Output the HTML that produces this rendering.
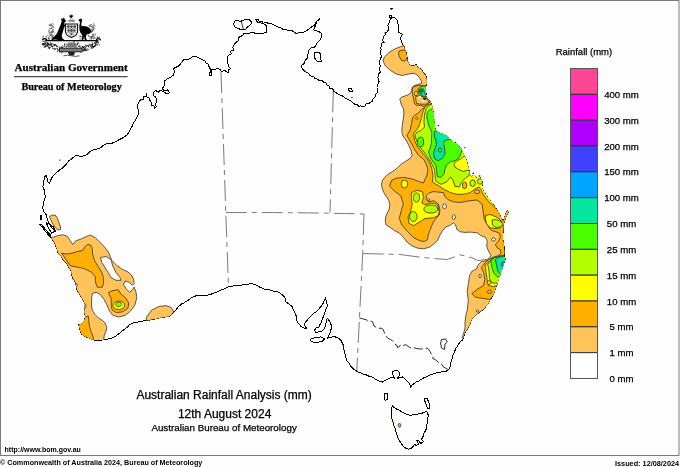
<!DOCTYPE html>
<html><head><meta charset="utf-8"><style>
html,body{margin:0;padding:0;background:#fff;}
body{width:680px;height:467px;overflow:hidden;position:relative;}
svg{position:absolute;left:0;top:0;will-change:transform;}
text{font-family:"Liberation Sans",Arial,sans-serif;fill:#000;stroke:#000;stroke-width:0.25px;}
.lab{font-size:9.6px;}
.ser{font-family:"Liberation Serif","Times New Roman",serif;font-weight:bold;}
</style></head><body>
<svg width="680" height="467" viewBox="0 0 680 467">
<defs><clipPath id="land"><path d="M79.4,324.7 L82.9,323.0 L84.6,319.6 L85.4,317.0 L85.0,315.3 L84.1,311.9 L84.6,308.4 L84.5,304.5 L84.0,302.0 L82.3,298.6 L80.8,296.5 L79.7,294.3 L78.4,292.1 L77.1,290.0 L76.4,287.6 L76.0,285.1 L75.4,282.6 L74.5,280.5 L73.1,278.7 L72.4,276.5 L71.4,274.2 L71.2,271.6 L70.3,269.3 L69.1,267.7 L68.1,265.9 L67.2,264.1 L65.8,262.3 L64.0,261.0 L62.7,259.0 L61.5,257.0 L60.1,255.0 L58.3,253.3 L57.6,251.2 L57.0,249.1 L56.0,247.2 L55.5,245.0 L54.6,243.0 L53.5,241.0 L51.5,238.5 L50.0,235.5 L52.0,233.0 L54.0,231.5 L55.5,231.0 L53.5,229.5 L51.0,226.5 L50.2,224.6 L49.0,223.0 L47.5,219.5 L46.8,217.0 L46.1,214.5 L43.9,211.8 L42.9,208.6 L42.9,206.2 L43.5,203.8 L43.8,201.3 L44.7,198.9 L45.4,196.5 L44.7,194.1 L44.6,191.6 L43.9,189.1 L42.9,186.8 L43.4,184.4 L43.8,181.9 L44.1,179.5 L44.6,177.1 L46.2,175.5 L47.0,177.9 L47.7,179.8 L47.8,181.9 L49.4,183.5 L50.4,181.6 L51.0,179.5 L52.7,176.3 L54.3,174.6 L55.9,173.0 L58.0,171.5 L59.9,169.8 L61.7,168.6 L63.3,167.2 L64.8,165.7 L66.4,164.3 L67.4,162.5 L68.8,160.9 L71.0,159.5 L72.9,157.7 L74.5,156.4 L76.1,155.2 L78.5,156.0 L81.0,156.3 L83.4,156.0 L85.5,155.4 L87.4,154.4 L88.9,152.6 L90.7,151.2 L92.6,150.2 L94.7,149.6 L96.7,149.0 L98.8,148.8 L100.6,147.8 L102.0,146.3 L104.0,145.1 L106.1,143.9 L108.5,144.0 L110.9,143.9 L113.3,142.6 L115.8,141.5 L117.9,140.4 L120.0,139.2 L122.2,138.2 L124.6,136.5 L127.1,135.0 L128.6,132.5 L130.0,130.0 L131.2,127.8 L132.5,125.7 L133.3,123.3 L134.5,121.6 L135.7,119.9 L136.5,118.0 L137.7,116.1 L138.5,114.0 L138.6,111.6 L138.1,109.3 L137.7,107.0 L137.9,104.8 L138.5,102.6 L140.7,99.7 L143.2,99.2 L143.6,96.7 L146.4,96.5 L146.6,93.7 L146.4,96.6 L149.0,98.0 L150.0,100.6 L151.5,103.0 L151.8,105.3 L154.6,106.1 L154.7,108.5 L156.3,106.4 L155.2,104.0 L156.4,102.1 L157.0,100.0 L155.5,97.0 L153.6,95.4 L153.2,93.0 L155.5,90.3 L158.4,92.3 L160.3,90.2 L162.8,91.5 L164.3,92.3 L166.8,93.9 L169.5,92.6 L167.5,89.8 L164.3,90.8 L162.3,88.9 L163.6,86.4 L165.1,84.0 L164.3,81.2 L167.3,79.0 L170.2,77.5 L173.2,75.3 L174.7,71.6 L173.2,68.6 L176.1,67.2 L179.1,65.7 L181.3,62.7 L183.5,59.8 L186.5,59.8 L189.4,59.0 L192.4,56.8 L195.3,56.1 L198.3,57.6 L200.3,58.4 L202.0,59.8 L204.7,60.2 L205.7,62.7 L207.7,63.6 L208.6,65.7 L210.1,68.6 L210.8,71.6 L209.1,73.5 L209.4,76.0 L211.8,74.9 L211.6,72.3 L211.8,69.6 L214.5,69.4 L218.2,68.6 L220.4,69.4 L221.2,71.5 L225.0,70.5 L226.7,71.9 L228.9,72.4 L228.2,69.7 L230.8,68.6 L228.9,66.7 L228.7,64.4 L227.0,62.8 L227.0,59.0 L227.3,56.8 L228.9,55.1 L231.2,53.8 L230.8,51.2 L233.5,50.2 L232.8,47.4 L234.2,45.0 L235.6,42.6 L238.2,40.9 L238.5,37.8 L240.2,36.3 L242.4,35.8 L243.8,33.8 L246.2,33.9 L248.2,33.7 L250.1,32.9 L253.2,32.1 L255.9,33.9 L258.8,33.1 L261.7,33.9 L264.5,32.9 L266.5,32.0 L266.2,29.1 L266.5,26.2 L265.2,24.4 L262.8,23.7 L262.0,21.5 L259.6,22.0 L258.3,19.2 L256.0,19.5 L257.5,22.5 L259.5,21.9 L261.5,23.7 L263.5,23.5 L265.5,22.3 L268.4,23.3 L270.4,23.5 L272.3,24.3 L274.2,25.2 L276.1,26.2 L278.5,27.2 L280.9,28.1 L282.7,29.1 L284.7,29.6 L286.7,30.0 L289.6,30.7 L292.5,31.0 L294.3,32.0 L296.0,33.4 L298.3,32.9 L302.1,32.9 L304.1,32.0 L306.0,31.0 L308.9,29.1 L310.7,27.5 L312.7,26.2 L314.6,25.2 L315.6,23.3 L316.5,21.3 L318.5,20.4 L319.5,18.5 L318.8,20.6 L316.0,21.4 L316.0,24.0 L315.2,26.0 L314.3,28.0 L313.7,30.0 L316.6,31.0 L319.5,32.0 L321.7,33.3 L321.4,35.8 L321.1,37.8 L320.4,39.7 L318.8,41.0 L317.5,42.6 L315.6,45.5 L314.3,47.7 L311.8,47.4 L310.1,48.6 L308.9,50.3 L307.9,54.1 L307.9,58.0 L306.2,59.2 L305.0,60.9 L304.5,63.5 L302.1,64.7 L301.2,66.7 L303.1,69.5 L304.8,71.2 L306.9,72.4 L308.6,73.6 L309.9,75.4 L311.8,76.3 L313.9,76.9 L315.3,78.7 L317.5,79.2 L319.1,80.8 L322.0,79.9 L323.3,82.1 L325.9,82.3 L326.9,85.0 L329.1,85.9 L329.7,88.5 L332.7,89.0 L333.8,91.2 L335.9,92.4 L337.8,94.0 L340.0,95.0 L342.3,95.8 L344.4,97.2 L346.2,98.8 L348.6,99.6 L350.6,100.9 L352.5,102.5 L354.4,104.0 L357.0,104.5 L358.8,106.2 L360.8,105.9 L362.9,107.0 L365.0,106.2 L365.9,103.9 L368.4,103.9 L370.0,102.5 L372.1,101.3 L373.0,98.8 L375.0,97.5 L375.1,94.8 L377.5,92.8 L377.5,90.0 L377.0,87.9 L377.1,85.9 L378.1,84.0 L379.1,82.1 L378.8,80.0 L377.8,77.9 L378.6,76.0 L378.7,74.0 L380.3,72.1 L379.5,70.0 L379.4,68.0 L380.7,66.0 L378.9,64.0 L379.4,62.0 L380.0,60.0 L380.7,58.1 L381.6,56.1 L380.6,54.0 L380.2,51.9 L381.2,50.0 L380.5,47.8 L381.9,46.0 L381.3,43.9 L383.3,42.1 L382.7,40.0 L383.6,36.8 L385.3,34.3 L387.0,31.7 L388.6,29.8 L388.3,27.4 L387.8,25.1 L389.1,23.1 L390.0,19.7 L392.1,17.6 L394.3,17.1 L395.6,18.4 L397.3,20.6 L398.1,24.0 L398.4,26.1 L398.1,28.3 L398.0,30.4 L398.6,32.5 L400.7,33.4 L402.4,34.3 L401.1,36.0 L400.7,38.5 L401.5,42.0 L402.8,44.4 L404.4,46.6 L404.7,49.3 L405.8,51.8 L406.4,54.0 L406.6,56.2 L407.4,58.4 L407.3,60.7 L408.6,62.8 L409.5,65.1 L411.7,65.8 L414.0,65.8 L416.2,64.4 L417.7,67.3 L419.7,68.2 L421.4,69.5 L422.8,71.8 L424.3,74.0 L425.8,75.5 L426.5,78.4 L426.9,80.6 L427.0,82.8 L426.3,84.9 L425.5,87.0 L425.6,89.4 L425.6,91.8 L426.1,93.7 L425.9,95.8 L426.8,97.7 L429.2,100.6 L430.9,102.4 L432.1,105.9 L432.8,108.2 L432.7,110.6 L433.6,112.9 L433.3,115.3 L433.4,117.8 L434.5,120.0 L434.1,122.4 L434.7,124.7 L434.7,128.2 L436.5,130.6 L437.9,132.3 L440.0,133.0 L442.4,133.8 L444.7,134.7 L447.7,136.5 L448.7,138.6 L450.6,140.0 L452.1,141.6 L454.2,142.4 L456.1,143.3 L457.7,144.7 L459.2,146.7 L461.2,148.3 L462.4,151.8 L464.2,155.3 L465.9,158.9 L467.1,162.4 L467.3,164.8 L468.3,167.1 L468.7,169.5 L469.4,171.8 L470.0,175.3 L471.8,177.1 L473.6,174.1 L475.3,176.5 L477.1,178.8 L479.4,176.5 L480.6,178.3 L481.8,180.0 L482.4,183.6 L481.8,187.1 L483.0,190.6 L484.4,192.3 L485.3,194.2 L486.7,195.8 L487.7,197.7 L489.4,199.2 L490.6,201.2 L493.0,204.2 L495.3,207.1 L497.1,210.6 L498.5,212.4 L499.9,214.1 L500.3,216.2 L501.2,218.1 L502.2,219.9 L503.4,223.6 L503.4,227.3 L503.2,231.1 L502.8,234.8 L502.8,238.5 L503.4,242.2 L504.1,246.0 L504.1,249.7 L504.4,252.1 L504.1,254.6 L504.0,256.6 L505.2,258.5 L504.9,260.6 L503.8,262.9 L503.2,265.3 L502.5,267.7 L501.4,270.0 L500.6,272.3 L500.1,274.8 L499.1,277.0 L498.5,279.4 L497.8,281.8 L497.3,284.3 L496.0,286.5 L495.4,288.9 L494.8,291.0 L494.0,292.9 L493.1,294.8 L492.0,296.5 L491.1,298.3 L490.1,300.0 L489.1,302.2 L487.9,304.4 L485.8,306.5 L484.2,308.9 L482.0,310.3 L479.8,311.8 L478.0,313.4 L476.1,314.8 L474.7,316.4 L473.1,317.7 L471.8,319.4 L470.9,321.4 L470.2,323.6 L469.4,325.8 L468.1,327.5 L467.2,329.5 L465.0,332.5 L464.3,334.7 L463.5,336.9 L462.8,339.9 L460.6,341.4 L458.3,344.3 L457.4,346.3 L456.1,348.0 L455.0,350.6 L453.9,353.2 L452.9,355.3 L452.4,357.6 L451.9,359.9 L451.0,362.0 L450.4,364.1 L450.3,366.2 L448.5,369.7 L445.9,371.5 L443.5,371.5 L441.1,371.9 L438.8,372.4 L436.4,372.7 L434.2,373.9 L431.8,374.1 L429.1,375.4 L426.5,376.8 L423.7,377.9 L421.2,379.4 L418.7,381.0 L415.9,382.1 L414.2,383.5 L412.3,384.7 L410.6,387.5 L409.7,384.0 L407.9,382.1 L405.3,379.4 L402.6,377.0 L400.9,377.8 L397.2,378.3 L399.3,375.8 L399.6,372.5 L397.5,370.3 L394.5,370.4 L392.6,372.0 L393.0,375.0 L394.5,378.2 L391.2,377.5 L389.1,378.6 L386.8,379.4 L384.6,380.7 L382.4,382.1 L379.7,381.3 L377.1,380.3 L375.3,379.1 L373.7,377.8 L371.8,376.8 L369.0,376.2 L366.5,375.0 L363.7,374.4 L361.2,373.2 L358.4,372.1 L355.9,370.6 L354.0,369.3 L352.2,367.9 L350.6,366.2 L349.7,364.3 L348.5,362.5 L347.1,360.9 L346.1,358.8 L345.8,356.5 L345.0,354.3 L344.4,352.1 L344.0,349.7 L343.7,347.4 L343.5,345.0 L342.6,343.9 L341.8,341.9 L340.7,340.1 L339.2,338.7 L337.5,337.5 L335.5,337.0 L333.6,336.2 L331.8,337.2 L329.8,337.5 L327.2,338.1 L328.5,336.2 L329.3,334.2 L330.4,332.4 L330.6,330.3 L331.7,328.5 L331.1,324.7 L330.2,322.7 L329.2,320.8 L327.2,318.2 L326.6,322.1 L325.7,323.9 L325.3,325.9 L324.5,327.9 L323.4,329.8 L321.7,331.2 L319.5,331.7 L315.7,332.4 L314.4,330.4 L316.3,327.9 L318.9,327.2 L319.5,325.1 L320.8,323.4 L321.6,320.7 L322.7,318.2 L323.8,315.7 L324.7,313.1 L325.9,309.3 L326.9,307.5 L327.2,305.4 L326.6,301.6 L325.8,299.7 L325.3,297.7 L324.7,299.6 L323.4,302.8 L321.5,306.0 L319.9,307.4 L318.9,309.3 L316.3,311.8 L314.3,313.0 L312.5,314.4 L311.0,316.1 L309.3,317.6 L307.8,319.6 L306.0,321.5 L304.1,324.7 L305.4,326.6 L306.7,328.5 L303.5,327.9 L300.9,326.6 L299.8,324.8 L298.3,323.4 L297.3,321.5 L296.4,319.5 L296.3,316.9 L295.8,314.4 L294.8,312.5 L293.9,310.5 L293.0,308.7 L292.6,306.7 L290.0,304.8 L288.0,303.3 L285.9,301.8 L285.0,298.2 L283.8,296.3 L282.3,294.7 L280.4,293.6 L278.8,292.1 L276.1,291.7 L273.5,291.2 L270.8,290.2 L268.2,289.1 L264.7,289.4 L262.6,288.3 L260.3,287.6 L258.3,286.0 L255.9,285.0 L253.7,284.2 L251.5,283.2 L247.9,284.5 L245.8,284.4 L243.8,284.6 L241.8,285.0 L239.4,285.3 L237.1,285.4 L234.7,285.5 L232.7,286.2 L230.5,286.2 L228.5,286.8 L225.8,288.0 L223.2,289.4 L221.1,290.1 L219.1,291.0 L217.1,292.1 L214.7,292.9 L212.3,293.7 L210.0,294.7 L207.6,295.0 L205.3,295.6 L202.9,295.6 L200.9,295.4 L198.8,295.6 L196.8,295.1 L194.8,296.4 L192.6,297.0 L190.6,298.2 L189.0,299.7 L187.2,300.8 L185.3,301.8 L183.7,303.2 L181.6,303.9 L180.0,305.3 L178.4,306.3 L177.2,308.2 L175.9,310.0 L174.3,311.5 L172.4,313.0 L171.0,315.1 L169.1,316.6 L167.0,316.7 L164.9,317.1 L162.9,317.6 L160.8,317.7 L158.8,318.0 L156.8,318.7 L154.7,319.0 L152.6,319.2 L150.6,319.7 L148.6,320.4 L146.4,320.2 L144.4,320.7 L142.3,321.1 L140.2,321.3 L138.2,321.8 L135.9,322.7 L133.4,323.0 L131.0,323.8 L129.1,325.0 L127.8,326.8 L125.9,328.0 L124.4,329.4 L122.8,330.5 L121.1,331.6 L119.7,333.1 L117.7,334.6 L115.7,336.0 L113.5,337.2 L111.5,338.1 L109.4,338.5 L107.4,339.3 L105.3,339.4 L103.3,339.9 L101.2,340.1 L97.4,340.1 L94.0,340.1 L91.4,339.3 L88.0,337.6 L84.6,336.3 L81.6,334.1 L80.3,330.7 L79.4,327.3 L78.6,324.9ZM392.5,405.4 L393.7,407.3 L397.0,409.3 L399.0,410.1 L400.8,411.2 L402.8,412.3 L404.7,413.7 L406.7,414.2 L408.5,415.0 L412.4,415.0 L416.2,414.4 L418.4,413.9 L420.7,413.7 L423.9,412.5 L426.5,411.2 L427.8,413.7 L428.4,415.9 L427.8,418.2 L427.4,420.8 L427.1,423.4 L426.1,425.9 L426.5,428.5 L425.2,431.1 L423.9,433.6 L423.4,435.6 L422.6,437.5 L421.5,439.5 L423.5,441.5 L421.0,443.5 L418.8,441.0 L416.9,440.7 L418.5,444.0 L416.0,445.5 L414.9,443.9 L413.0,446.5 L411.1,448.4 L408.5,449.1 L405.9,448.4 L403.4,446.5 L401.5,443.9 L399.5,440.7 L397.6,437.5 L397.3,435.4 L396.3,433.6 L395.7,429.8 L394.4,426.6 L393.3,424.8 L393.1,422.7 L392.7,420.4 L391.8,418.2 L391.9,415.6 L391.2,413.1 L391.6,410.9 L391.6,408.6ZM233.7,23.3 L235.6,20.4 L240.5,21.4 L244.3,20.0 L249.1,19.5 L252.0,22.3 L250.1,25.2 L247.2,27.2 L245.3,29.7 L241.4,30.0 L237.6,28.1 L234.3,26.6ZM314.0,53.0 L318.0,52.0 L321.0,54.0 L320.5,58.0 L321.5,61.5 L317.0,61.0 L314.5,58.0ZM311.2,338.8 L315.7,337.5 L320.8,336.9 L324.7,338.8 L322.1,341.3 L317.0,342.6 L312.5,342.0 L310.5,340.7ZM384.5,393.5 L387.5,393.5 L387.8,399.0 L385.0,400.3 L384.2,397.0ZM425.0,398.5 L427.0,398.3 L430.0,405.0 L429.5,409.0 L427.5,408.0 L424.8,401.0ZM507.2,210.5 L508.8,211.2 L506.5,216.0 L504.5,221.0 L503.5,225.0 L502.6,224.5 L504.0,219.0 L505.6,214.0ZM40.0,224.5 L41.5,224.5 L51.0,236.0 L50.0,237.0ZM46.5,223.0 L49.0,223.5 L53.5,227.0 L55.0,231.5 L52.0,233.0 L48.5,228.5ZM40.2,215.0 L41.0,215.0 L41.5,219.5 L40.7,219.5ZM348.0,89.0 L351.0,88.5 L352.5,91.0 L350.0,92.0ZM389.6,15.6 L391.0,15.4 L391.2,16.9 L389.8,17.2ZM390.4,8.2 L392.2,8.6 L391.4,10.0Z"/></clipPath></defs>
<rect x="0" y="0" width="680" height="467" fill="#fdfefd"/>
<rect x="0.5" y="0.5" width="678.5" height="455" fill="#fcfdfc" stroke="#7a7a7a" stroke-width="1"/>

<g fill="none" stroke="#7a7a7a" stroke-width="1" stroke-dasharray="21 5 5 5">
<path d="M221,72 L225.8,212.6 L228.5,286.5"/>
<path d="M225.8,212.6 Q295,212.2 364,214"/>
<path d="M333.3,91.3 L330,212.5"/>
<path d="M364,214 L362.7,253.5 L356.8,370.6"/>
<path d="M362.7,253.5 L400,254.5 L414.1,256.4 L430.6,258.3 L447.1,259.5 L454.2,257.1 L458.9,254.7 L466,255.9 L473,258.3 L477.8,260.6 L490,259 L504,258"/>

</g>
<path fill="none" stroke="#111" stroke-width="0.9" stroke-dasharray="9 3" d="M359.4,318.1 L361.6,318.5 L363.8,319.2 L366.0,319.6 L367.9,321.1 L370.4,321.0 L372.6,321.8 L373.3,324.0 L374.1,326.2 L377.0,327.7 L378.9,328.4 L381.1,328.1 L382.9,329.2 L383.9,331.4 L384.7,333.7 L385.9,335.8 L387.7,338.1 L390.3,339.5 L392.3,340.4 L393.5,342.2 L394.7,343.9 L396.8,345.2 L397.6,347.6 L399.5,346.5 L400.6,344.6 L403.0,345.5 L405.7,344.7 L407.9,346.1 L409.6,347.5 L411.6,348.0 L413.8,347.6 L416.2,348.4 L418.7,348.8 L421.2,349.1 L423.6,348.4 L426.1,348.1 L428.5,349.1 L430.0,351.7 L431.5,354.2 L433.0,356.1 L432.9,358.6 L435.2,359.6 L437.1,361.1 L438.8,363.0 L441.6,364.1 L443.2,366.7 L445.2,367.9 L447.2,369.1 L449.1,370.4"/>
<path d="M241.4,21.6 L243.3,29.3" stroke="#000" stroke-width="0.8"/>
<g fill="#000"><circle cx="433.8" cy="120.5" r="1.1"/><circle cx="438.3" cy="125.6" r="0.7"/><circle cx="464.8" cy="147.7" r="0.6"/><circle cx="473.2" cy="173.3" r="0.8"/><circle cx="479.5" cy="176" r="0.8"/><circle cx="385.4" cy="33" r="0.9"/><circle cx="384" cy="42.5" r="0.8"/><circle cx="352" cy="97.5" r="0.7"/><circle cx="59.9" cy="160.1" r="0.7"/></g>
<path d="M441.5,339.5 L445.5,339 L447.3,342 L445,344 L444.5,349.5 L441.5,348 L440.6,343 Z" fill="none" stroke="#111" stroke-width="0.9"/>

<path d="M79.4,324.7 L82.9,323.0 L84.6,319.6 L85.4,317.0 L85.0,315.3 L84.1,311.9 L84.6,308.4 L84.5,304.5 L84.0,302.0 L82.3,298.6 L80.8,296.5 L79.7,294.3 L78.4,292.1 L77.1,290.0 L76.4,287.6 L76.0,285.1 L75.4,282.6 L74.5,280.5 L73.1,278.7 L72.4,276.5 L71.4,274.2 L71.2,271.6 L70.3,269.3 L69.1,267.7 L68.1,265.9 L67.2,264.1 L65.8,262.3 L64.0,261.0 L62.7,259.0 L61.5,257.0 L60.1,255.0 L58.3,253.3 L57.6,251.2 L57.0,249.1 L56.0,247.2 L55.5,245.0 L54.6,243.0 L53.5,241.0 L51.5,238.5 L50.0,235.5 L52.0,233.0 L54.0,231.5 L55.5,231.0 L53.5,229.5 L51.0,226.5 L50.2,224.6 L49.0,223.0 L47.5,219.5 L46.8,217.0 L46.1,214.5 L43.9,211.8 L42.9,208.6 L42.9,206.2 L43.5,203.8 L43.8,201.3 L44.7,198.9 L45.4,196.5 L44.7,194.1 L44.6,191.6 L43.9,189.1 L42.9,186.8 L43.4,184.4 L43.8,181.9 L44.1,179.5 L44.6,177.1 L46.2,175.5 L47.0,177.9 L47.7,179.8 L47.8,181.9 L49.4,183.5 L50.4,181.6 L51.0,179.5 L52.7,176.3 L54.3,174.6 L55.9,173.0 L58.0,171.5 L59.9,169.8 L61.7,168.6 L63.3,167.2 L64.8,165.7 L66.4,164.3 L67.4,162.5 L68.8,160.9 L71.0,159.5 L72.9,157.7 L74.5,156.4 L76.1,155.2 L78.5,156.0 L81.0,156.3 L83.4,156.0 L85.5,155.4 L87.4,154.4 L88.9,152.6 L90.7,151.2 L92.6,150.2 L94.7,149.6 L96.7,149.0 L98.8,148.8 L100.6,147.8 L102.0,146.3 L104.0,145.1 L106.1,143.9 L108.5,144.0 L110.9,143.9 L113.3,142.6 L115.8,141.5 L117.9,140.4 L120.0,139.2 L122.2,138.2 L124.6,136.5 L127.1,135.0 L128.6,132.5 L130.0,130.0 L131.2,127.8 L132.5,125.7 L133.3,123.3 L134.5,121.6 L135.7,119.9 L136.5,118.0 L137.7,116.1 L138.5,114.0 L138.6,111.6 L138.1,109.3 L137.7,107.0 L137.9,104.8 L138.5,102.6 L140.7,99.7 L143.2,99.2 L143.6,96.7 L146.4,96.5 L146.6,93.7 L146.4,96.6 L149.0,98.0 L150.0,100.6 L151.5,103.0 L151.8,105.3 L154.6,106.1 L154.7,108.5 L156.3,106.4 L155.2,104.0 L156.4,102.1 L157.0,100.0 L155.5,97.0 L153.6,95.4 L153.2,93.0 L155.5,90.3 L158.4,92.3 L160.3,90.2 L162.8,91.5 L164.3,92.3 L166.8,93.9 L169.5,92.6 L167.5,89.8 L164.3,90.8 L162.3,88.9 L163.6,86.4 L165.1,84.0 L164.3,81.2 L167.3,79.0 L170.2,77.5 L173.2,75.3 L174.7,71.6 L173.2,68.6 L176.1,67.2 L179.1,65.7 L181.3,62.7 L183.5,59.8 L186.5,59.8 L189.4,59.0 L192.4,56.8 L195.3,56.1 L198.3,57.6 L200.3,58.4 L202.0,59.8 L204.7,60.2 L205.7,62.7 L207.7,63.6 L208.6,65.7 L210.1,68.6 L210.8,71.6 L209.1,73.5 L209.4,76.0 L211.8,74.9 L211.6,72.3 L211.8,69.6 L214.5,69.4 L218.2,68.6 L220.4,69.4 L221.2,71.5 L225.0,70.5 L226.7,71.9 L228.9,72.4 L228.2,69.7 L230.8,68.6 L228.9,66.7 L228.7,64.4 L227.0,62.8 L227.0,59.0 L227.3,56.8 L228.9,55.1 L231.2,53.8 L230.8,51.2 L233.5,50.2 L232.8,47.4 L234.2,45.0 L235.6,42.6 L238.2,40.9 L238.5,37.8 L240.2,36.3 L242.4,35.8 L243.8,33.8 L246.2,33.9 L248.2,33.7 L250.1,32.9 L253.2,32.1 L255.9,33.9 L258.8,33.1 L261.7,33.9 L264.5,32.9 L266.5,32.0 L266.2,29.1 L266.5,26.2 L265.2,24.4 L262.8,23.7 L262.0,21.5 L259.6,22.0 L258.3,19.2 L256.0,19.5 L257.5,22.5 L259.5,21.9 L261.5,23.7 L263.5,23.5 L265.5,22.3 L268.4,23.3 L270.4,23.5 L272.3,24.3 L274.2,25.2 L276.1,26.2 L278.5,27.2 L280.9,28.1 L282.7,29.1 L284.7,29.6 L286.7,30.0 L289.6,30.7 L292.5,31.0 L294.3,32.0 L296.0,33.4 L298.3,32.9 L302.1,32.9 L304.1,32.0 L306.0,31.0 L308.9,29.1 L310.7,27.5 L312.7,26.2 L314.6,25.2 L315.6,23.3 L316.5,21.3 L318.5,20.4 L319.5,18.5 L318.8,20.6 L316.0,21.4 L316.0,24.0 L315.2,26.0 L314.3,28.0 L313.7,30.0 L316.6,31.0 L319.5,32.0 L321.7,33.3 L321.4,35.8 L321.1,37.8 L320.4,39.7 L318.8,41.0 L317.5,42.6 L315.6,45.5 L314.3,47.7 L311.8,47.4 L310.1,48.6 L308.9,50.3 L307.9,54.1 L307.9,58.0 L306.2,59.2 L305.0,60.9 L304.5,63.5 L302.1,64.7 L301.2,66.7 L303.1,69.5 L304.8,71.2 L306.9,72.4 L308.6,73.6 L309.9,75.4 L311.8,76.3 L313.9,76.9 L315.3,78.7 L317.5,79.2 L319.1,80.8 L322.0,79.9 L323.3,82.1 L325.9,82.3 L326.9,85.0 L329.1,85.9 L329.7,88.5 L332.7,89.0 L333.8,91.2 L335.9,92.4 L337.8,94.0 L340.0,95.0 L342.3,95.8 L344.4,97.2 L346.2,98.8 L348.6,99.6 L350.6,100.9 L352.5,102.5 L354.4,104.0 L357.0,104.5 L358.8,106.2 L360.8,105.9 L362.9,107.0 L365.0,106.2 L365.9,103.9 L368.4,103.9 L370.0,102.5 L372.1,101.3 L373.0,98.8 L375.0,97.5 L375.1,94.8 L377.5,92.8 L377.5,90.0 L377.0,87.9 L377.1,85.9 L378.1,84.0 L379.1,82.1 L378.8,80.0 L377.8,77.9 L378.6,76.0 L378.7,74.0 L380.3,72.1 L379.5,70.0 L379.4,68.0 L380.7,66.0 L378.9,64.0 L379.4,62.0 L380.0,60.0 L380.7,58.1 L381.6,56.1 L380.6,54.0 L380.2,51.9 L381.2,50.0 L380.5,47.8 L381.9,46.0 L381.3,43.9 L383.3,42.1 L382.7,40.0 L383.6,36.8 L385.3,34.3 L387.0,31.7 L388.6,29.8 L388.3,27.4 L387.8,25.1 L389.1,23.1 L390.0,19.7 L392.1,17.6 L394.3,17.1 L395.6,18.4 L397.3,20.6 L398.1,24.0 L398.4,26.1 L398.1,28.3 L398.0,30.4 L398.6,32.5 L400.7,33.4 L402.4,34.3 L401.1,36.0 L400.7,38.5 L401.5,42.0 L402.8,44.4 L404.4,46.6 L404.7,49.3 L405.8,51.8 L406.4,54.0 L406.6,56.2 L407.4,58.4 L407.3,60.7 L408.6,62.8 L409.5,65.1 L411.7,65.8 L414.0,65.8 L416.2,64.4 L417.7,67.3 L419.7,68.2 L421.4,69.5 L422.8,71.8 L424.3,74.0 L425.8,75.5 L426.5,78.4 L426.9,80.6 L427.0,82.8 L426.3,84.9 L425.5,87.0 L425.6,89.4 L425.6,91.8 L426.1,93.7 L425.9,95.8 L426.8,97.7 L429.2,100.6 L430.9,102.4 L432.1,105.9 L432.8,108.2 L432.7,110.6 L433.6,112.9 L433.3,115.3 L433.4,117.8 L434.5,120.0 L434.1,122.4 L434.7,124.7 L434.7,128.2 L436.5,130.6 L437.9,132.3 L440.0,133.0 L442.4,133.8 L444.7,134.7 L447.7,136.5 L448.7,138.6 L450.6,140.0 L452.1,141.6 L454.2,142.4 L456.1,143.3 L457.7,144.7 L459.2,146.7 L461.2,148.3 L462.4,151.8 L464.2,155.3 L465.9,158.9 L467.1,162.4 L467.3,164.8 L468.3,167.1 L468.7,169.5 L469.4,171.8 L470.0,175.3 L471.8,177.1 L473.6,174.1 L475.3,176.5 L477.1,178.8 L479.4,176.5 L480.6,178.3 L481.8,180.0 L482.4,183.6 L481.8,187.1 L483.0,190.6 L484.4,192.3 L485.3,194.2 L486.7,195.8 L487.7,197.7 L489.4,199.2 L490.6,201.2 L493.0,204.2 L495.3,207.1 L497.1,210.6 L498.5,212.4 L499.9,214.1 L500.3,216.2 L501.2,218.1 L502.2,219.9 L503.4,223.6 L503.4,227.3 L503.2,231.1 L502.8,234.8 L502.8,238.5 L503.4,242.2 L504.1,246.0 L504.1,249.7 L504.4,252.1 L504.1,254.6 L504.0,256.6 L505.2,258.5 L504.9,260.6 L503.8,262.9 L503.2,265.3 L502.5,267.7 L501.4,270.0 L500.6,272.3 L500.1,274.8 L499.1,277.0 L498.5,279.4 L497.8,281.8 L497.3,284.3 L496.0,286.5 L495.4,288.9 L494.8,291.0 L494.0,292.9 L493.1,294.8 L492.0,296.5 L491.1,298.3 L490.1,300.0 L489.1,302.2 L487.9,304.4 L485.8,306.5 L484.2,308.9 L482.0,310.3 L479.8,311.8 L478.0,313.4 L476.1,314.8 L474.7,316.4 L473.1,317.7 L471.8,319.4 L470.9,321.4 L470.2,323.6 L469.4,325.8 L468.1,327.5 L467.2,329.5 L465.0,332.5 L464.3,334.7 L463.5,336.9 L462.8,339.9 L460.6,341.4 L458.3,344.3 L457.4,346.3 L456.1,348.0 L455.0,350.6 L453.9,353.2 L452.9,355.3 L452.4,357.6 L451.9,359.9 L451.0,362.0 L450.4,364.1 L450.3,366.2 L448.5,369.7 L445.9,371.5 L443.5,371.5 L441.1,371.9 L438.8,372.4 L436.4,372.7 L434.2,373.9 L431.8,374.1 L429.1,375.4 L426.5,376.8 L423.7,377.9 L421.2,379.4 L418.7,381.0 L415.9,382.1 L414.2,383.5 L412.3,384.7 L410.6,387.5 L409.7,384.0 L407.9,382.1 L405.3,379.4 L402.6,377.0 L400.9,377.8 L397.2,378.3 L399.3,375.8 L399.6,372.5 L397.5,370.3 L394.5,370.4 L392.6,372.0 L393.0,375.0 L394.5,378.2 L391.2,377.5 L389.1,378.6 L386.8,379.4 L384.6,380.7 L382.4,382.1 L379.7,381.3 L377.1,380.3 L375.3,379.1 L373.7,377.8 L371.8,376.8 L369.0,376.2 L366.5,375.0 L363.7,374.4 L361.2,373.2 L358.4,372.1 L355.9,370.6 L354.0,369.3 L352.2,367.9 L350.6,366.2 L349.7,364.3 L348.5,362.5 L347.1,360.9 L346.1,358.8 L345.8,356.5 L345.0,354.3 L344.4,352.1 L344.0,349.7 L343.7,347.4 L343.5,345.0 L342.6,343.9 L341.8,341.9 L340.7,340.1 L339.2,338.7 L337.5,337.5 L335.5,337.0 L333.6,336.2 L331.8,337.2 L329.8,337.5 L327.2,338.1 L328.5,336.2 L329.3,334.2 L330.4,332.4 L330.6,330.3 L331.7,328.5 L331.1,324.7 L330.2,322.7 L329.2,320.8 L327.2,318.2 L326.6,322.1 L325.7,323.9 L325.3,325.9 L324.5,327.9 L323.4,329.8 L321.7,331.2 L319.5,331.7 L315.7,332.4 L314.4,330.4 L316.3,327.9 L318.9,327.2 L319.5,325.1 L320.8,323.4 L321.6,320.7 L322.7,318.2 L323.8,315.7 L324.7,313.1 L325.9,309.3 L326.9,307.5 L327.2,305.4 L326.6,301.6 L325.8,299.7 L325.3,297.7 L324.7,299.6 L323.4,302.8 L321.5,306.0 L319.9,307.4 L318.9,309.3 L316.3,311.8 L314.3,313.0 L312.5,314.4 L311.0,316.1 L309.3,317.6 L307.8,319.6 L306.0,321.5 L304.1,324.7 L305.4,326.6 L306.7,328.5 L303.5,327.9 L300.9,326.6 L299.8,324.8 L298.3,323.4 L297.3,321.5 L296.4,319.5 L296.3,316.9 L295.8,314.4 L294.8,312.5 L293.9,310.5 L293.0,308.7 L292.6,306.7 L290.0,304.8 L288.0,303.3 L285.9,301.8 L285.0,298.2 L283.8,296.3 L282.3,294.7 L280.4,293.6 L278.8,292.1 L276.1,291.7 L273.5,291.2 L270.8,290.2 L268.2,289.1 L264.7,289.4 L262.6,288.3 L260.3,287.6 L258.3,286.0 L255.9,285.0 L253.7,284.2 L251.5,283.2 L247.9,284.5 L245.8,284.4 L243.8,284.6 L241.8,285.0 L239.4,285.3 L237.1,285.4 L234.7,285.5 L232.7,286.2 L230.5,286.2 L228.5,286.8 L225.8,288.0 L223.2,289.4 L221.1,290.1 L219.1,291.0 L217.1,292.1 L214.7,292.9 L212.3,293.7 L210.0,294.7 L207.6,295.0 L205.3,295.6 L202.9,295.6 L200.9,295.4 L198.8,295.6 L196.8,295.1 L194.8,296.4 L192.6,297.0 L190.6,298.2 L189.0,299.7 L187.2,300.8 L185.3,301.8 L183.7,303.2 L181.6,303.9 L180.0,305.3 L178.4,306.3 L177.2,308.2 L175.9,310.0 L174.3,311.5 L172.4,313.0 L171.0,315.1 L169.1,316.6 L167.0,316.7 L164.9,317.1 L162.9,317.6 L160.8,317.7 L158.8,318.0 L156.8,318.7 L154.7,319.0 L152.6,319.2 L150.6,319.7 L148.6,320.4 L146.4,320.2 L144.4,320.7 L142.3,321.1 L140.2,321.3 L138.2,321.8 L135.9,322.7 L133.4,323.0 L131.0,323.8 L129.1,325.0 L127.8,326.8 L125.9,328.0 L124.4,329.4 L122.8,330.5 L121.1,331.6 L119.7,333.1 L117.7,334.6 L115.7,336.0 L113.5,337.2 L111.5,338.1 L109.4,338.5 L107.4,339.3 L105.3,339.4 L103.3,339.9 L101.2,340.1 L97.4,340.1 L94.0,340.1 L91.4,339.3 L88.0,337.6 L84.6,336.3 L81.6,334.1 L80.3,330.7 L79.4,327.3 L78.6,324.9ZM392.5,405.4 L393.7,407.3 L397.0,409.3 L399.0,410.1 L400.8,411.2 L402.8,412.3 L404.7,413.7 L406.7,414.2 L408.5,415.0 L412.4,415.0 L416.2,414.4 L418.4,413.9 L420.7,413.7 L423.9,412.5 L426.5,411.2 L427.8,413.7 L428.4,415.9 L427.8,418.2 L427.4,420.8 L427.1,423.4 L426.1,425.9 L426.5,428.5 L425.2,431.1 L423.9,433.6 L423.4,435.6 L422.6,437.5 L421.5,439.5 L423.5,441.5 L421.0,443.5 L418.8,441.0 L416.9,440.7 L418.5,444.0 L416.0,445.5 L414.9,443.9 L413.0,446.5 L411.1,448.4 L408.5,449.1 L405.9,448.4 L403.4,446.5 L401.5,443.9 L399.5,440.7 L397.6,437.5 L397.3,435.4 L396.3,433.6 L395.7,429.8 L394.4,426.6 L393.3,424.8 L393.1,422.7 L392.7,420.4 L391.8,418.2 L391.9,415.6 L391.2,413.1 L391.6,410.9 L391.6,408.6ZM233.7,23.3 L235.6,20.4 L240.5,21.4 L244.3,20.0 L249.1,19.5 L252.0,22.3 L250.1,25.2 L247.2,27.2 L245.3,29.7 L241.4,30.0 L237.6,28.1 L234.3,26.6ZM314.0,53.0 L318.0,52.0 L321.0,54.0 L320.5,58.0 L321.5,61.5 L317.0,61.0 L314.5,58.0ZM311.2,338.8 L315.7,337.5 L320.8,336.9 L324.7,338.8 L322.1,341.3 L317.0,342.6 L312.5,342.0 L310.5,340.7ZM384.5,393.5 L387.5,393.5 L387.8,399.0 L385.0,400.3 L384.2,397.0ZM425.0,398.5 L427.0,398.3 L430.0,405.0 L429.5,409.0 L427.5,408.0 L424.8,401.0ZM507.2,210.5 L508.8,211.2 L506.5,216.0 L504.5,221.0 L503.5,225.0 L502.6,224.5 L504.0,219.0 L505.6,214.0ZM40.0,224.5 L41.5,224.5 L51.0,236.0 L50.0,237.0ZM46.5,223.0 L49.0,223.5 L53.5,227.0 L55.0,231.5 L52.0,233.0 L48.5,228.5ZM40.2,215.0 L41.0,215.0 L41.5,219.5 L40.7,219.5ZM348.0,89.0 L351.0,88.5 L352.5,91.0 L350.0,92.0ZM389.6,15.6 L391.0,15.4 L391.2,16.9 L389.8,17.2ZM390.4,8.2 L392.2,8.6 L391.4,10.0Z" fill="none" stroke="#000" stroke-width="1" stroke-linejoin="round" shape-rendering="crispEdges"/>
<g clip-path="url(#land)">
<path d="M404.4,45.5 L400.7,46.6 L394.8,48.9 L388.9,52.6 L384.4,57.0 L383.0,60.7 L385.2,65.8 L390.3,70.3 L396.2,74.0 L402.2,75.5 L408.8,74.0 L414.0,73.2 L417.7,75.5 L419.9,78.4 L420.4,80.0 L421.7,81.2 L421.1,83.8 L417.8,84.4 L414.0,85.7 L412.1,87.6 L411.7,90.8 L410.1,93.4 L407.6,95.0 L404.0,96.3 L401.5,97.1 L399.7,99.4 L400.1,100.0 L401.2,104.3 L403.4,108.6 L403.9,112.9 L403.4,118.2 L402.3,124.7 L401.8,131.1 L402.5,135.0 L404.6,138.2 L406.8,141.4 L408.9,145.7 L411.0,150.0 L412.1,155.3 L410.0,158.6 L405.7,161.2 L401.4,163.9 L397.1,168.2 L392.8,171.4 L387.5,174.6 L384.3,177.8 L382.1,181.0 L381.5,185.0 L382.2,188.3 L383.7,192.4 L386.3,196.5 L388.8,200.6 L389.8,204.7 L389.3,208.8 L387.3,212.9 L385.7,217.0 L385.2,221.1 L386.2,225.0 L389.7,227.1 L394.4,230.6 L399.1,232.9 L402.6,236.5 L407.4,242.4 L412.1,245.9 L417.9,248.2 L423.8,248.8 L429.7,247.1 L434.4,243.5 L437.8,240.0 L439.4,236.0 L442.6,230.6 L445.8,226.9 L450.1,225.3 L453.2,222.8 L455.6,224.7 L456.8,229.4 L460.3,231.8 L465.0,232.4 L470.0,232.1 L472.4,232.3 L477.4,232.9 L480.5,235.4 L485.4,237.3 L487.3,241.0 L486.7,246.0 L487.9,249.7 L489.8,253.4 L491.0,255.9 L487.2,260.5 L481.3,261.8 L477.8,265.3 L476.6,268.9 L471.9,271.2 L469.5,275.9 L468.3,284.2 L467.2,291.3 L468.3,300.7 L467.9,304.4 L467.2,310.3 L465.7,316.2 L465.0,322.2 L465.0,328.1 L463.5,334.0 L462.0,337.5 L475.0,345.0 L530.0,345.0 L530.0,44.0Z" fill="#FFC35A" stroke="#333" stroke-width="0.8"/>
<path d="M45.0,237.0 L52.6,237.4 L57.9,235.6 L63.2,234.7 L67.6,236.5 L70.3,240.9 L72.9,244.4 L75.6,240.9 L80.9,239.1 L86.2,236.5 L90.1,235.0 L95.3,237.6 L99.1,241.4 L103.0,245.3 L106.2,249.1 L108.8,253.0 L110.7,257.5 L111.3,259.4 L112.0,260.7 L117.1,265.8 L122.3,269.4 L127.4,271.6 L131.3,274.8 L133.5,279.0 L134.1,283.5 L132.3,285.3 L129.7,282.6 L125.3,280.9 L123.5,284.4 L126.2,288.8 L129.7,292.4 L132.3,289.7 L134.1,287.1 L135.9,291.5 L136.8,297.6 L135.0,304.7 L130.6,310.9 L125.3,315.3 L118.2,317.1 L112.9,315.3 L109.4,310.9 L106.8,304.7 L104.1,299.4 L99.7,294.1 L96.2,292.4 L92.6,293.2 L91.8,296.8 L91.4,305.0 L92.3,310.1 L94.9,314.4 L98.3,317.9 L102.6,320.4 L105.1,323.0 L106.8,327.3 L106.0,331.6 L104.3,335.0 L103.8,338.4 L104.0,345.0 L60.0,345.0 L38.0,300.0 L38.0,237.0Z" fill="#FFC35A" stroke="#333" stroke-width="0.8"/>
<path d="M100.5,257.6 L106.0,256.5 L111.0,259.5 L112.8,266.0 L116.0,272.5 L120.0,277.5 L121.0,280.3 L116.0,280.3 L111.0,277.5 L107.5,271.5 L104.0,266.0 L101.8,262.5Z" fill="#fcfdfc" stroke="#333" stroke-width="0.8"/>
<path d="M49.5,216.5 L51.4,215.3 L55.2,215.0 L57.3,218.2 L58.9,222.5 L60.5,226.8 L60.5,229.5 L57.9,230.0 L55.5,228.0 L53.0,224.5 L51.0,220.5Z" fill="#FFC35A" stroke="#333" stroke-width="0.8"/>
<path d="M146.5,317.1 L151.8,310.0 L158.8,306.5 L165.9,305.6 L171.2,307.4 L173.8,311.8 L172.9,316.2 L174.0,325.0 L146.0,325.0Z" fill="#FFC35A" stroke="#333" stroke-width="0.8"/>
<path d="M399.0,51.0 L403.0,50.0 L406.5,50.5 L408.0,56.0 L405.0,61.0 L401.5,60.5 L399.5,57.0 L398.5,54.0Z" fill="#FFAF00" stroke="#333" stroke-width="0.8"/>
<path d="M440.0,104.0 L424.4,107.5 L421.5,109.4 L418.6,113.0 L414.4,115.3 L412.7,117.7 L411.5,123.6 L410.3,129.5 L408.5,133.0 L406.8,135.0 L408.4,138.2 L411.0,142.5 L414.3,148.9 L418.5,155.3 L423.9,159.6 L426.0,163.9 L427.6,168.2 L427.6,172.5 L426.6,176.0 L423.4,183.0 L418.6,181.4 L412.2,179.0 L404.1,177.4 L396.1,178.2 L391.3,180.6 L389.6,186.3 L394.5,191.1 L400.9,195.9 L403.3,203.9 L400.9,212.0 L399.3,218.4 L401.7,224.8 L407.3,231.3 L413.8,237.7 L420.2,240.9 L424.0,241.5 L427.4,240.0 L428.2,234.9 L429.8,230.6 L431.9,225.3 L434.0,221.0 L436.7,217.8 L439.4,214.6 L439.9,209.3 L438.3,203.9 L434.0,200.7 L428.7,201.8 L426.0,198.6 L426.6,195.3 L428.7,193.2 L433.0,191.6 L438.3,192.1 L443.7,192.7 L444.7,196.4 L448.0,199.6 L453.3,201.8 L460.4,202.5 L468.0,201.0 L477.0,200.0 L482.0,204.0 L483.2,212.0 L484.3,219.5 L487.0,224.0 L489.8,229.0 L493.0,231.0 L496.0,231.7 L499.7,233.5 L500.3,237.3 L498.5,241.0 L495.4,244.7 L497.2,247.8 L500.3,249.7 L501.0,253.4 L497.9,255.9 L493.5,257.1 L488.5,259.6 L484.8,263.0 L481.3,267.7 L483.6,272.4 L484.8,279.5 L483.6,285.4 L477.8,288.9 L471.9,293.6 L475.4,297.2 L482.5,298.3 L489.5,299.5 L493.1,296.0 L530.0,296.0 L530.0,104.0Z" fill="#FFAF00" stroke="#333" stroke-width="0.8"/>
<path d="M412.7,87.1 L418.6,85.3 L424.4,85.9 L430.0,84.0 L440.0,84.0 L440.0,100.0 L430.3,101.8 L428.6,103.6 L426.2,105.3 L423.9,106.5 L420.9,105.3 L416.8,105.3 L414.4,103.6 L413.3,97.7 L412.1,91.8Z" fill="#FFAF00" stroke="#333" stroke-width="0.8"/>
<path d="M415.5,97.0 L419.0,95.5 L424.0,97.0 L427.0,99.0 L429.0,102.0 L426.0,104.2 L421.0,104.2 L416.5,103.5Z" fill="#FFC35A" stroke="#333" stroke-width="0.8"/>
<path d="M61.5,253.2 L66.8,254.1 L72.1,253.2 L77.4,251.5 L82.6,250.6 L85.3,246.2 L87.9,244.4 L90.5,245.0 L92.1,247.9 L92.7,254.3 L94.6,260.7 L98.5,267.1 L101.7,272.3 L103.4,277.4 L103.6,283.0 L102.4,287.1 L99.5,287.5 L97.3,287.1 L95.7,282.9 L95.2,276.4 L91.4,272.1 L87.1,270.0 L82.9,268.2 L75.9,266.8 L70.6,265.9 L67.9,262.4 L64.4,257.1Z" fill="#FFAF00" stroke="#333" stroke-width="0.8"/>
<path d="M108.5,292.4 L112.9,290.6 L118.2,289.7 L120.9,294.1 L125.3,297.6 L128.8,302.9 L127.9,308.2 L122.6,311.8 L116.5,312.6 L112.1,310.0 L111.2,304.7 L111.2,298.5 L109.4,295.0Z" fill="#FFAF00" stroke="#333" stroke-width="0.8"/>
<path d="M72.0,317.0 L85.0,317.0 L88.4,316.1 L88.9,322.1 L89.7,327.3 L91.4,332.4 L93.1,336.7 L93.6,339.5 L93.0,345.0 L72.0,345.0Z" fill="#FFAF00" stroke="#333" stroke-width="0.8"/>
<ellipse cx="416" cy="93.5" rx="1.5" ry="2.3" fill="#FFFF00" stroke="#333" stroke-width="0.8"/>
<ellipse cx="416.8" cy="118.3" rx="1.2" ry="1.2" fill="#FFFF00" stroke="#333" stroke-width="0.8"/>
<path d="M430.0,104.0 L426.0,106.0 L424.4,108.3 L422.7,113.0 L421.5,117.7 L420.3,122.4 L418.6,127.1 L416.2,130.6 L413.5,133.5 L414.0,137.0 L414.5,140.4 L417.5,146.8 L422.8,153.2 L427.1,158.6 L430.3,163.9 L431.9,169.3 L433.0,175.7 L432.5,182.0 L439.5,186.3 L444.3,189.5 L450.7,192.7 L457.2,194.3 L463.6,194.3 L470.0,192.7 L475.9,188.3 L479.4,187.1 L481.5,190.5 L482.4,193.0 L485.0,197.0 L489.0,202.0 L493.6,206.0 L495.5,208.5 L520.0,208.5 L520.0,103.0Z" fill="#FFFF00" stroke="#333" stroke-width="0.8"/>
<path d="M411.4,192.7 L417.0,190.3 L422.6,191.9 L423.4,197.5 L421.8,203.1 L425.0,204.7 L431.4,203.1 L436.0,204.0 L437.8,206.0 L439.2,211.4 L438.3,215.5 L434.0,217.6 L428.7,218.2 L425.0,218.5 L420.2,221.6 L413.8,225.6 L408.9,223.2 L408.1,216.8 L410.5,212.0 L412.2,203.9 L411.4,197.5Z" fill="#FFFF00" stroke="#333" stroke-width="0.8"/>
<ellipse cx="404.5" cy="184" rx="3.3" ry="4" fill="#FFFF00" stroke="#333" stroke-width="0.8"/>
<path d="M485.5,215.5 L490.0,214.5 L494.0,216.0 L498.0,218.0 L501.0,221.0 L503.0,225.0 L500.0,228.0 L495.0,228.5 L490.0,227.5 L486.5,224.0 L485.5,219.0Z" fill="#FFFF00" stroke="#333" stroke-width="0.8"/>
<path d="M485.3,265.3 L486.0,272.4 L487.2,279.5 L488.4,285.4 L493.1,286.6 L496.6,285.4 L520.0,285.0 L520.0,255.0 L503.7,255.9 L498.9,257.1 L491.9,259.5 L487.2,263.0Z" fill="#FFFF00" stroke="#333" stroke-width="0.8"/>
<ellipse cx="118.8" cy="305.3" rx="5.8" ry="4.3" fill="#FFFF00" stroke="#333" stroke-width="0.8"/>
<path d="M430.0,104.5 L426.2,108.3 L424.4,115.3 L423.9,121.2 L424.5,127.0 L421.0,130.5 L416.5,132.5 L415.0,135.5 L416.4,140.4 L419.6,146.8 L425.0,153.2 L429.3,159.6 L432.5,165.0 L434.6,170.3 L435.7,181.0 L441.1,184.3 L446.4,182.1 L450.7,176.8 L452.8,180.0 L455.0,186.4 L459.3,186.9 L461.4,182.1 L465.7,177.8 L468.9,175.7 L470.0,171.4 L473.0,168.0 L520.0,168.0 L520.0,104.0Z" fill="#B4FF00" stroke="#333" stroke-width="0.8"/>
<ellipse cx="416.5" cy="197.5" rx="3" ry="4.5" fill="#B4FF00" stroke="#333" stroke-width="0.8"/>
<ellipse cx="430.8" cy="209.1" rx="7" ry="4" fill="#B4FF00" stroke="#333" stroke-width="0.8"/>
<ellipse cx="413.3" cy="216.5" rx="3.8" ry="5" fill="#B4FF00" stroke="#333" stroke-width="0.8"/>
<path d="M492.0,220.0 L496.0,219.5 L500.0,221.0 L503.0,224.0 L501.0,227.0 L496.0,227.5 L492.5,225.0Z" fill="#B4FF00" stroke="#333" stroke-width="0.8"/>
<path d="M487.7,264.2 L489.1,271.2 L489.5,278.3 L491.9,283.0 L495.4,283.0 L520.0,283.0 L520.0,255.0 L500.0,256.0 L492.0,258.5Z" fill="#B4FF00" stroke="#333" stroke-width="0.8"/>
<ellipse cx="118.6" cy="304.4" rx="2.9" ry="2.1" fill="#B4FF00" stroke="#333" stroke-width="0.8"/>
<ellipse cx="118.4" cy="304.3" rx="1.1" ry="0.9" fill="#4BFF00"/>
<path d="M418.2,88.9 L420.4,87.0 L423.6,86.0 L425.6,86.3 L440.0,86.0 L440.0,98.0 L424.3,97.9 L421.7,96.0 L419.1,94.1 L418.2,91.5Z" fill="#4BFF00" stroke="#333" stroke-width="0.8"/>
<path d="M440.0,108.0 L433.0,108.5 L429.0,110.5 L427.3,112.3 L426.9,117.2 L427.8,122.0 L429.3,126.8 L431.2,130.5 L431.8,133.5 L431.5,136.4 L431.5,142.9 L430.3,147.8 L428.5,152.0 L431.4,159.6 L435.7,165.0 L436.8,171.4 L437.3,176.8 L441.1,177.3 L444.3,173.6 L444.8,169.3 L446.4,165.0 L450.7,161.8 L455.0,160.7 L458.2,158.6 L460.3,155.4 L461.4,152.1 L462.0,149.0 L480.0,149.0 L480.0,108.0Z" fill="#4BFF00" stroke="#333" stroke-width="0.8"/>
<path d="M453.9,163.9 L457.1,160.7 L461.4,158.6 L463.5,156.4 L470.0,157.0 L472.0,170.0 L467.3,170.3 L463.5,171.4 L458.2,169.3 L455.0,167.1Z" fill="#FFFF00" stroke="#333" stroke-width="0.8"/>
<ellipse cx="472.7" cy="183.2" rx="2.7" ry="3.2" fill="#B4FF00" stroke="#333" stroke-width="0.8"/>
<ellipse cx="480" cy="181.5" rx="2.7" ry="2.7" fill="#B4FF00" stroke="#333" stroke-width="0.8"/>
<ellipse cx="464.6" cy="185.3" rx="2.2" ry="3.2" fill="#FFAF00" stroke="#333" stroke-width="0.8"/>
<ellipse cx="477" cy="191.8" rx="2.6" ry="1.8" fill="#FFC35A" stroke="#333" stroke-width="0.8"/>
<ellipse cx="420.5" cy="142" rx="3.2" ry="4.8" fill="#4BFF00" stroke="#333" stroke-width="0.8"/>
<path d="M490.7,260.6 L491.9,267.7 L494.2,273.6 L497.8,277.1 L500.1,275.9 L520.0,275.0 L520.0,255.0 L501.3,255.9 L494.2,257.8Z" fill="#4BFF00" stroke="#333" stroke-width="0.8"/>
<path d="M419.5,89.6 L421.7,88.6 L423.6,89.2 L424.3,92.8 L425.6,94.7 L425.9,96.9 L423.6,96.6 L421.7,94.7 L420.1,92.8Z" fill="#05E69F" stroke="#333" stroke-width="0.8"/>
<path d="M434.4,131.5 L437.7,130.8 L441.9,132.8 L446.0,134.3 L452.0,136.0 L452.0,139.0 L447.3,139.7 L444.5,141.0 L443.5,143.5 L444.5,147.8 L445.0,154.3 L442.1,158.6 L437.8,160.7 L434.6,158.6 L433.5,153.2 L435.2,148.0 L436.5,144.5 L435.8,140.0 L434.2,136.0Z" fill="#05E69F" stroke="#333" stroke-width="0.8"/>
<ellipse cx="440" cy="150" rx="1.6" ry="2.2" fill="#4BFF00" stroke="#333" stroke-width="0.8"/>
<path d="M495.4,259.5 L496.6,265.3 L497.8,271.2 L500.1,273.6 L520.0,273.0 L520.0,255.0 L503.7,256.4 L499.0,257.1Z" fill="#05E69F" stroke="#333" stroke-width="0.8"/>
<ellipse cx="421" cy="91" rx="1.6" ry="1.4" fill="#00A5FF" stroke="#333" stroke-width="0.8"/>
<path d="M501.3,263.0 L501.8,266.5 L503.7,268.2 L520.0,268.0 L520.0,262.0 L503.0,261.8Z" fill="#00A5FF" stroke="#333" stroke-width="0.8"/>
<ellipse cx="421" cy="91.4" rx="0.7" ry="0.7" fill="#4040FF"/>
<ellipse cx="489" cy="282.5" rx="1.8" ry="1.8" fill="#FFFF00" stroke="#333" stroke-width="0.8"/>
<ellipse cx="489.5" cy="291.7" rx="2" ry="1.6" fill="#FFC35A" stroke="#333" stroke-width="0.8"/>
<ellipse cx="424.6" cy="98.8" rx="1.8" ry="1.1" fill="#222"/>
<ellipse cx="419.8" cy="96.8" rx="1.1" ry="1.1" fill="#fcfdfc"/>
<ellipse cx="423.3" cy="100.8" rx="1.2" ry="1.1" fill="#fcfdfc"/>
<ellipse cx="444.5" cy="206.3" rx="1.9" ry="2.4" fill="#fcfdfc" stroke="#333" stroke-width="0.8"/>
<ellipse cx="453.8" cy="217" rx="1.6" ry="2.4" fill="#fcfdfc" stroke="#333" stroke-width="0.8"/>
<ellipse cx="428.7" cy="199.6" rx="1" ry="1" fill="#fcfdfc" stroke="#333" stroke-width="0.8"/>
<ellipse cx="493.5" cy="239.5" rx="2" ry="1.6" fill="#fcfdfc" stroke="#333" stroke-width="0.8"/>
<ellipse cx="480.1" cy="276" rx="1.2" ry="1.8" fill="#fcfdfc" stroke="#333" stroke-width="0.8"/>
<ellipse cx="477.5" cy="311" rx="1.3" ry="1" fill="#fcfdfc" stroke="#333" stroke-width="0.8"/>
<ellipse cx="84.5" cy="306" rx="1.5" ry="2.5" fill="#fcfdfc" stroke="#333" stroke-width="0.8"/>
<ellipse cx="75.9" cy="285" rx="1.5" ry="1.5" fill="#fcfdfc" stroke="#333" stroke-width="0.8"/>
<ellipse cx="399.5" cy="425.3" rx="1.3" ry="2" fill="#FFAF00" stroke="#333" stroke-width="0.8"/>
</g>
<rect x="570.5" y="68.50" width="27" height="25.83" fill="#FF4696" stroke="#333" stroke-width="1"/>
<rect x="570.5" y="94.33" width="27" height="25.83" fill="#FF00FF" stroke="#333" stroke-width="1"/>
<rect x="570.5" y="120.17" width="27" height="25.83" fill="#AF00FF" stroke="#333" stroke-width="1"/>
<rect x="570.5" y="146.00" width="27" height="25.83" fill="#4040FF" stroke="#333" stroke-width="1"/>
<rect x="570.5" y="171.83" width="27" height="25.83" fill="#00A5FF" stroke="#333" stroke-width="1"/>
<rect x="570.5" y="197.67" width="27" height="25.83" fill="#05E69F" stroke="#333" stroke-width="1"/>
<rect x="570.5" y="223.50" width="27" height="25.83" fill="#4BFF00" stroke="#333" stroke-width="1"/>
<rect x="570.5" y="249.33" width="27" height="25.83" fill="#B4FF00" stroke="#333" stroke-width="1"/>
<rect x="570.5" y="275.17" width="27" height="25.83" fill="#FFFF00" stroke="#333" stroke-width="1"/>
<rect x="570.5" y="301.00" width="27" height="25.83" fill="#FFAF00" stroke="#333" stroke-width="1"/>
<rect x="570.5" y="326.83" width="27" height="25.83" fill="#FFC35A" stroke="#333" stroke-width="1"/>
<rect x="570.5" y="352.67" width="27" height="25.83" fill="#FFFFFF" stroke="#333" stroke-width="1"/>
<rect x="570.5" y="68.5" width="27" height="310" fill="none" stroke="#555" stroke-width="1"/>
<text x="621.5" y="97.9" text-anchor="middle" class="lab">400 mm</text>
<text x="621.5" y="123.8" text-anchor="middle" class="lab">300 mm</text>
<text x="621.5" y="149.6" text-anchor="middle" class="lab">200 mm</text>
<text x="621.5" y="175.4" text-anchor="middle" class="lab">150 mm</text>
<text x="621.5" y="201.3" text-anchor="middle" class="lab">100 mm</text>
<text x="621.5" y="227.1" text-anchor="middle" class="lab">50 mm</text>
<text x="621.5" y="252.9" text-anchor="middle" class="lab">25 mm</text>
<text x="621.5" y="278.8" text-anchor="middle" class="lab">15 mm</text>
<text x="621.5" y="304.6" text-anchor="middle" class="lab">10 mm</text>
<text x="621.5" y="330.4" text-anchor="middle" class="lab">5 mm</text>
<text x="621.5" y="356.3" text-anchor="middle" class="lab">1 mm</text>
<text x="621.5" y="382.1" text-anchor="middle" class="lab">0 mm</text>
<text x="555.7" y="54.9" style="font-size:9.5px">Rainfall (mm)</text>
<path d="M71.2,13.5 L71.6,15.5 L73.5,14.6 L72.2,16.2 L74.0,17.0 L72.0,17.0 L72.5,19.0 L71.2,17.4 L69.9,19.0 L70.4,17.0 L68.4,17.0 L70.2,16.2 L68.9,14.6 L70.8,15.5Z" fill="#000"/>
<rect x="68.4" y="20.4" width="6.4" height="1.0" fill="#222"/>
<rect x="69.2" y="19.6" width="4.8" height="0.7" fill="#999"/>
<path d="M49.2,25.4 L51.0,25.8" stroke="#555" stroke-width="0.7" stroke-linecap="round"/><path d="M49.6,24.2 L51.3,24.4" stroke="#555" stroke-width="0.7" stroke-linecap="round"/><circle cx="50.9" cy="35.1" r="0.53" fill="#555"/><path d="M52.1,35.6 L52.9,37.9" stroke="#555" stroke-width="0.7" stroke-linecap="round"/><circle cx="47.9" cy="35.5" r="0.50" fill="#555"/><path d="M52.2,31.8 L52.1,33.1" stroke="#555" stroke-width="0.7" stroke-linecap="round"/><circle cx="52.9" cy="29.5" r="0.65" fill="#555"/><path d="M51.6,27.1 L50.7,28.3" stroke="#555" stroke-width="0.7" stroke-linecap="round"/><path d="M52.6,30.3 L51.6,31.4" stroke="#555" stroke-width="0.7" stroke-linecap="round"/><circle cx="50.8" cy="34.1" r="0.62" fill="#555"/><path d="M53.1,30.7 L54.2,32.4" stroke="#555" stroke-width="0.7" stroke-linecap="round"/><path d="M53.3,31.1 L51.2,32.2" stroke="#555" stroke-width="0.7" stroke-linecap="round"/><circle cx="51.3" cy="32.8" r="0.70" fill="#555"/><path d="M52.2,36.8 L53.2,38.1" stroke="#555" stroke-width="0.7" stroke-linecap="round"/><path d="M52.3,23.5 L53.4,24.2" stroke="#555" stroke-width="0.7" stroke-linecap="round"/><circle cx="50.6" cy="35.7" r="0.61" fill="#555"/><path d="M52.6,35.5 L51.2,36.2" stroke="#555" stroke-width="0.7" stroke-linecap="round"/><path d="M51.5,28.4 L50.1,28.6" stroke="#555" stroke-width="0.7" stroke-linecap="round"/><path d="M49.0,29.8 L49.8,30.7" stroke="#555" stroke-width="0.7" stroke-linecap="round"/><path d="M51.9,28.5 L49.8,28.8" stroke="#555" stroke-width="0.7" stroke-linecap="round"/><path d="M50.5,32.0 L52.7,32.3" stroke="#555" stroke-width="0.7" stroke-linecap="round"/><path d="M53.5,35.0 L54.0,36.5" stroke="#555" stroke-width="0.7" stroke-linecap="round"/><circle cx="48.3" cy="32.4" r="0.47" fill="#555"/><circle cx="49.2" cy="25.8" r="0.47" fill="#555"/><circle cx="52.4" cy="25.6" r="0.57" fill="#555"/><path d="M51.3,25.2 L49.5,25.2" stroke="#555" stroke-width="0.7" stroke-linecap="round"/><circle cx="51.4" cy="24.7" r="0.57" fill="#555"/><circle cx="49.6" cy="35.1" r="0.46" fill="#555"/><circle cx="48.7" cy="31.1" r="0.63" fill="#555"/><path d="M52.1,26.6 L54.0,27.7" stroke="#555" stroke-width="0.7" stroke-linecap="round"/><circle cx="51.8" cy="34.4" r="0.53" fill="#555"/><path d="M54.9,36.7 L53.1,37.9" stroke="#555" stroke-width="0.7" stroke-linecap="round"/><path d="M53.1,26.1 L53.7,27.2" stroke="#555" stroke-width="0.7" stroke-linecap="round"/><path d="M49.4,32.0 L49.8,34.3" stroke="#555" stroke-width="0.7" stroke-linecap="round"/>
<circle cx="90.9" cy="26.6" r="0.52" fill="#555"/><path d="M90.4,31.8 L88.9,32.7" stroke="#555" stroke-width="0.7" stroke-linecap="round"/><circle cx="93.2" cy="34.7" r="0.68" fill="#555"/><path d="M95.2,33.7 L95.3,35.2" stroke="#555" stroke-width="0.7" stroke-linecap="round"/><path d="M95.1,28.1 L93.5,28.2" stroke="#555" stroke-width="0.7" stroke-linecap="round"/><path d="M90.6,36.4 L91.8,37.1" stroke="#555" stroke-width="0.7" stroke-linecap="round"/><path d="M88.2,35.7 L90.2,36.7" stroke="#555" stroke-width="0.7" stroke-linecap="round"/><circle cx="90.8" cy="31.2" r="0.45" fill="#555"/><path d="M93.2,36.1 L91.2,37.0" stroke="#555" stroke-width="0.7" stroke-linecap="round"/><circle cx="89.7" cy="27.0" r="0.53" fill="#555"/><path d="M91.6,26.7 L93.7,27.6" stroke="#555" stroke-width="0.7" stroke-linecap="round"/><path d="M91.6,29.7 L90.0,30.2" stroke="#555" stroke-width="0.7" stroke-linecap="round"/><circle cx="92.3" cy="30.8" r="0.60" fill="#555"/><path d="M95.0,25.2 L93.8,26.6" stroke="#555" stroke-width="0.7" stroke-linecap="round"/><path d="M91.1,30.3 L90.1,31.2" stroke="#555" stroke-width="0.7" stroke-linecap="round"/><circle cx="92.5" cy="27.0" r="0.72" fill="#555"/><path d="M92.9,31.1 L91.2,31.6" stroke="#555" stroke-width="0.7" stroke-linecap="round"/><path d="M93.4,29.9 L92.4,31.3" stroke="#555" stroke-width="0.7" stroke-linecap="round"/><path d="M92.9,29.3 L91.6,31.1" stroke="#555" stroke-width="0.7" stroke-linecap="round"/><path d="M91.9,36.4 L93.1,37.0" stroke="#555" stroke-width="0.7" stroke-linecap="round"/><circle cx="91.5" cy="24.5" r="0.48" fill="#555"/><path d="M92.4,34.0 L94.3,35.0" stroke="#555" stroke-width="0.7" stroke-linecap="round"/><path d="M94.0,25.4 L92.6,25.6" stroke="#555" stroke-width="0.7" stroke-linecap="round"/><path d="M91.1,36.9 L92.6,37.8" stroke="#555" stroke-width="0.7" stroke-linecap="round"/><circle cx="92.1" cy="28.2" r="0.56" fill="#555"/><path d="M93.7,23.2 L93.9,24.4" stroke="#555" stroke-width="0.7" stroke-linecap="round"/><path d="M89.5,32.0 L91.8,32.5" stroke="#555" stroke-width="0.7" stroke-linecap="round"/><circle cx="94.3" cy="37.1" r="0.54" fill="#555"/><path d="M91.2,25.0 L89.1,25.6" stroke="#555" stroke-width="0.7" stroke-linecap="round"/><path d="M90.3,24.6 L89.8,26.6" stroke="#555" stroke-width="0.7" stroke-linecap="round"/><circle cx="93.5" cy="29.5" r="0.78" fill="#555"/><circle cx="93.1" cy="34.7" r="0.75" fill="#555"/><path d="M88.1,34.8 L89.0,36.4" stroke="#555" stroke-width="0.7" stroke-linecap="round"/><circle cx="89.0" cy="30.9" r="0.49" fill="#555"/>
<path d="M42.5,40.3 Q43,38.2 45.5,38.8 Q47,39.4 46,40.6 L97,40.6 Q96,39.4 97.5,38.8 Q100,38.2 100.5,40.3" stroke="#000" stroke-width="1.4" fill="none"/>
<circle cx="46.1" cy="36.2" r="0.56" fill="#444"/><circle cx="48.8" cy="38.7" r="0.63" fill="#444"/><circle cx="46.4" cy="37.2" r="0.54" fill="#444"/><path d="M42.6,38.1 L44.0,39.1" stroke="#444" stroke-width="0.6" stroke-linecap="round"/><path d="M60.6,35.5 L60.9,37.2" stroke="#444" stroke-width="0.6" stroke-linecap="round"/><path d="M59.5,36.4 L58.2,38.4" stroke="#444" stroke-width="0.6" stroke-linecap="round"/><path d="M49.9,38.1 L49.2,39.7" stroke="#444" stroke-width="0.6" stroke-linecap="round"/><circle cx="49.6" cy="36.2" r="0.47" fill="#444"/><circle cx="57.1" cy="36.9" r="0.48" fill="#444"/><path d="M58.5,38.5 L59.5,39.6" stroke="#444" stroke-width="0.6" stroke-linecap="round"/><circle cx="48.6" cy="37.6" r="0.61" fill="#444"/><path d="M48.1,38.6 L47.9,40.1" stroke="#444" stroke-width="0.6" stroke-linecap="round"/><path d="M60.5,37.1 L62.2,37.1" stroke="#444" stroke-width="0.6" stroke-linecap="round"/><circle cx="52.0" cy="37.8" r="0.63" fill="#444"/><circle cx="43.1" cy="36.9" r="0.59" fill="#444"/><circle cx="43.8" cy="36.1" r="0.53" fill="#444"/>
<path d="M92.2,36.9 L91.2,38.8" stroke="#444" stroke-width="0.6" stroke-linecap="round"/><circle cx="97.6" cy="37.4" r="0.79" fill="#444"/><path d="M81.9,38.4 L84.1,38.7" stroke="#444" stroke-width="0.6" stroke-linecap="round"/><path d="M98.4,37.8 L97.3,38.6" stroke="#444" stroke-width="0.6" stroke-linecap="round"/><path d="M91.4,37.1 L89.6,38.4" stroke="#444" stroke-width="0.6" stroke-linecap="round"/><path d="M92.1,38.5 L91.3,39.7" stroke="#444" stroke-width="0.6" stroke-linecap="round"/><path d="M79.6,36.1 L81.7,36.8" stroke="#444" stroke-width="0.6" stroke-linecap="round"/><path d="M91.7,37.4 L90.7,39.0" stroke="#444" stroke-width="0.6" stroke-linecap="round"/><path d="M80.1,37.9 L80.1,39.7" stroke="#444" stroke-width="0.6" stroke-linecap="round"/><path d="M92.7,35.8 L93.6,36.7" stroke="#444" stroke-width="0.6" stroke-linecap="round"/><circle cx="85.3" cy="38.6" r="0.71" fill="#444"/><path d="M99.4,36.7 L99.6,38.7" stroke="#444" stroke-width="0.6" stroke-linecap="round"/><path d="M94.7,38.0 L96.0,38.3" stroke="#444" stroke-width="0.6" stroke-linecap="round"/><circle cx="85.1" cy="38.6" r="0.65" fill="#444"/><circle cx="80.2" cy="36.2" r="0.69" fill="#444"/><circle cx="93.8" cy="38.4" r="0.63" fill="#444"/>
<circle cx="52.3" cy="46.6" r="0.76" fill="#1a1a1a"/><path d="M47.6,42.6 L49.1,43.8" stroke="#1a1a1a" stroke-width="0.75" stroke-linecap="round"/><path d="M59.8,46.5 L59.0,47.7" stroke="#1a1a1a" stroke-width="0.75" stroke-linecap="round"/><circle cx="52.8" cy="46.4" r="0.50" fill="#1a1a1a"/><path d="M48.8,44.6 L50.9,44.6" stroke="#1a1a1a" stroke-width="0.75" stroke-linecap="round"/><path d="M61.0,49.1 L62.0,50.4" stroke="#1a1a1a" stroke-width="0.75" stroke-linecap="round"/><path d="M54.4,44.7 L55.2,45.7" stroke="#1a1a1a" stroke-width="0.75" stroke-linecap="round"/><path d="M47.3,43.5 L48.7,44.4" stroke="#1a1a1a" stroke-width="0.75" stroke-linecap="round"/><path d="M62.6,50.9 L61.7,53.0" stroke="#1a1a1a" stroke-width="0.75" stroke-linecap="round"/><path d="M60.8,47.5 L62.8,47.8" stroke="#1a1a1a" stroke-width="0.75" stroke-linecap="round"/><circle cx="45.5" cy="46.6" r="0.55" fill="#1a1a1a"/><path d="M48.4,47.4 L49.6,48.1" stroke="#1a1a1a" stroke-width="0.75" stroke-linecap="round"/><path d="M48.8,43.5 L46.8,44.2" stroke="#1a1a1a" stroke-width="0.75" stroke-linecap="round"/><path d="M51.0,45.1 L51.6,46.6" stroke="#1a1a1a" stroke-width="0.75" stroke-linecap="round"/><path d="M43.4,43.8 L45.1,44.5" stroke="#1a1a1a" stroke-width="0.75" stroke-linecap="round"/><circle cx="47.3" cy="44.0" r="0.59" fill="#1a1a1a"/><circle cx="60.0" cy="51.8" r="0.46" fill="#1a1a1a"/><circle cx="52.5" cy="48.1" r="0.59" fill="#1a1a1a"/><path d="M62.3,51.2 L60.8,51.3" stroke="#1a1a1a" stroke-width="0.75" stroke-linecap="round"/><path d="M45.8,41.5 L44.6,43.5" stroke="#1a1a1a" stroke-width="0.75" stroke-linecap="round"/><path d="M57.3,48.0 L57.6,49.8" stroke="#1a1a1a" stroke-width="0.75" stroke-linecap="round"/><path d="M45.9,43.2 L45.2,44.3" stroke="#1a1a1a" stroke-width="0.75" stroke-linecap="round"/><circle cx="54.7" cy="45.5" r="0.66" fill="#1a1a1a"/><path d="M44.2,44.3 L42.2,44.5" stroke="#1a1a1a" stroke-width="0.75" stroke-linecap="round"/><path d="M48.2,43.1 L47.2,44.3" stroke="#1a1a1a" stroke-width="0.75" stroke-linecap="round"/><circle cx="56.5" cy="46.0" r="0.68" fill="#1a1a1a"/><path d="M44.1,44.3 L43.3,45.5" stroke="#1a1a1a" stroke-width="0.75" stroke-linecap="round"/><path d="M58.0,49.4 L59.9,50.8" stroke="#1a1a1a" stroke-width="0.75" stroke-linecap="round"/><path d="M46.9,42.4 L48.3,44.3" stroke="#1a1a1a" stroke-width="0.75" stroke-linecap="round"/><path d="M48.1,45.8 L46.8,46.0" stroke="#1a1a1a" stroke-width="0.75" stroke-linecap="round"/><path d="M45.1,40.9 L43.0,41.6" stroke="#1a1a1a" stroke-width="0.75" stroke-linecap="round"/><path d="M55.9,44.8 L56.6,46.0" stroke="#1a1a1a" stroke-width="0.75" stroke-linecap="round"/><path d="M43.7,44.0 L42.4,44.2" stroke="#1a1a1a" stroke-width="0.75" stroke-linecap="round"/><path d="M46.0,45.2 L47.7,45.3" stroke="#1a1a1a" stroke-width="0.75" stroke-linecap="round"/><circle cx="59.2" cy="50.5" r="0.46" fill="#1a1a1a"/><path d="M44.6,43.4 L42.3,43.7" stroke="#1a1a1a" stroke-width="0.75" stroke-linecap="round"/><path d="M50.7,42.6 L50.8,44.9" stroke="#1a1a1a" stroke-width="0.75" stroke-linecap="round"/><path d="M58.0,50.4 L57.5,51.9" stroke="#1a1a1a" stroke-width="0.75" stroke-linecap="round"/><path d="M48.7,45.0 L50.1,45.4" stroke="#1a1a1a" stroke-width="0.75" stroke-linecap="round"/><path d="M55.2,44.3 L52.9,45.2" stroke="#1a1a1a" stroke-width="0.75" stroke-linecap="round"/><circle cx="57.2" cy="46.3" r="0.60" fill="#1a1a1a"/><path d="M56.3,48.8 L54.5,49.7" stroke="#1a1a1a" stroke-width="0.75" stroke-linecap="round"/><path d="M49.4,47.3 L48.4,48.4" stroke="#1a1a1a" stroke-width="0.75" stroke-linecap="round"/><circle cx="47.9" cy="43.7" r="0.76" fill="#1a1a1a"/><path d="M55.5,44.7 L53.7,44.8" stroke="#1a1a1a" stroke-width="0.75" stroke-linecap="round"/><path d="M46.1,46.1 L44.0,47.2" stroke="#1a1a1a" stroke-width="0.75" stroke-linecap="round"/><circle cx="43.8" cy="44.3" r="0.52" fill="#1a1a1a"/><path d="M62.0,47.1 L62.9,49.1" stroke="#1a1a1a" stroke-width="0.75" stroke-linecap="round"/><path d="M52.6,43.8 L51.3,44.0" stroke="#1a1a1a" stroke-width="0.75" stroke-linecap="round"/><circle cx="54.9" cy="48.6" r="0.58" fill="#1a1a1a"/><circle cx="45.8" cy="43.2" r="0.66" fill="#1a1a1a"/><path d="M42.6,44.3 L43.9,45.2" stroke="#1a1a1a" stroke-width="0.75" stroke-linecap="round"/><path d="M45.3,45.0 L44.8,46.2" stroke="#1a1a1a" stroke-width="0.75" stroke-linecap="round"/><circle cx="51.2" cy="44.2" r="0.78" fill="#1a1a1a"/><path d="M49.0,46.8 L49.5,48.9" stroke="#1a1a1a" stroke-width="0.75" stroke-linecap="round"/><path d="M53.1,48.6 L55.0,49.1" stroke="#1a1a1a" stroke-width="0.75" stroke-linecap="round"/><circle cx="50.4" cy="47.1" r="0.55" fill="#1a1a1a"/><path d="M45.9,46.8 L44.5,47.0" stroke="#1a1a1a" stroke-width="0.75" stroke-linecap="round"/><path d="M48.1,45.4 L46.8,46.1" stroke="#1a1a1a" stroke-width="0.75" stroke-linecap="round"/><path d="M47.1,45.1 L47.6,46.3" stroke="#1a1a1a" stroke-width="0.75" stroke-linecap="round"/>
<path d="M83.9,49.8 L85.7,50.0" stroke="#1a1a1a" stroke-width="0.75" stroke-linecap="round"/><path d="M96.5,41.1 L96.2,43.0" stroke="#1a1a1a" stroke-width="0.75" stroke-linecap="round"/><path d="M85.7,45.0 L86.2,46.9" stroke="#1a1a1a" stroke-width="0.75" stroke-linecap="round"/><circle cx="88.7" cy="46.2" r="0.67" fill="#1a1a1a"/><path d="M88.8,44.9 L90.8,45.9" stroke="#1a1a1a" stroke-width="0.75" stroke-linecap="round"/><path d="M95.9,41.8 L95.9,44.2" stroke="#1a1a1a" stroke-width="0.75" stroke-linecap="round"/><path d="M98.5,42.5 L97.2,42.8" stroke="#1a1a1a" stroke-width="0.75" stroke-linecap="round"/><circle cx="86.8" cy="50.3" r="0.76" fill="#1a1a1a"/><path d="M82.2,46.6 L83.4,47.5" stroke="#1a1a1a" stroke-width="0.75" stroke-linecap="round"/><circle cx="89.9" cy="44.6" r="0.51" fill="#1a1a1a"/><circle cx="83.3" cy="50.7" r="0.64" fill="#1a1a1a"/><path d="M92.6,44.2 L92.2,46.1" stroke="#1a1a1a" stroke-width="0.75" stroke-linecap="round"/><path d="M97.5,41.1 L96.9,42.6" stroke="#1a1a1a" stroke-width="0.75" stroke-linecap="round"/><path d="M95.8,43.1 L95.4,44.7" stroke="#1a1a1a" stroke-width="0.75" stroke-linecap="round"/><circle cx="94.9" cy="46.2" r="0.71" fill="#1a1a1a"/><circle cx="80.9" cy="51.2" r="0.67" fill="#1a1a1a"/><circle cx="92.9" cy="44.6" r="0.46" fill="#1a1a1a"/><path d="M83.0,47.4 L82.9,49.6" stroke="#1a1a1a" stroke-width="0.75" stroke-linecap="round"/><path d="M83.6,47.5 L85.2,48.7" stroke="#1a1a1a" stroke-width="0.75" stroke-linecap="round"/><circle cx="98.3" cy="43.7" r="0.48" fill="#1a1a1a"/><circle cx="95.3" cy="45.7" r="0.45" fill="#1a1a1a"/><path d="M93.0,47.0 L92.2,48.6" stroke="#1a1a1a" stroke-width="0.75" stroke-linecap="round"/><path d="M80.4,47.0 L81.3,47.8" stroke="#1a1a1a" stroke-width="0.75" stroke-linecap="round"/><path d="M92.4,46.7 L91.3,47.5" stroke="#1a1a1a" stroke-width="0.75" stroke-linecap="round"/><path d="M81.3,51.6 L80.6,52.5" stroke="#1a1a1a" stroke-width="0.75" stroke-linecap="round"/><path d="M85.9,47.1 L84.5,48.3" stroke="#1a1a1a" stroke-width="0.75" stroke-linecap="round"/><path d="M84.3,48.1 L86.0,49.6" stroke="#1a1a1a" stroke-width="0.75" stroke-linecap="round"/><path d="M85.2,49.6 L84.0,50.7" stroke="#1a1a1a" stroke-width="0.75" stroke-linecap="round"/><circle cx="97.2" cy="44.8" r="0.77" fill="#1a1a1a"/><circle cx="91.1" cy="44.5" r="0.67" fill="#1a1a1a"/><path d="M82.2,47.6 L80.4,48.8" stroke="#1a1a1a" stroke-width="0.75" stroke-linecap="round"/><path d="M98.5,41.0 L96.3,41.7" stroke="#1a1a1a" stroke-width="0.75" stroke-linecap="round"/><circle cx="92.3" cy="44.2" r="0.48" fill="#1a1a1a"/><circle cx="94.8" cy="43.2" r="0.60" fill="#1a1a1a"/><path d="M84.9,48.8 L86.1,50.8" stroke="#1a1a1a" stroke-width="0.75" stroke-linecap="round"/><path d="M87.6,45.3 L88.5,47.1" stroke="#1a1a1a" stroke-width="0.75" stroke-linecap="round"/><path d="M96.3,41.4 L97.3,42.0" stroke="#1a1a1a" stroke-width="0.75" stroke-linecap="round"/><path d="M83.0,50.4 L84.8,50.4" stroke="#1a1a1a" stroke-width="0.75" stroke-linecap="round"/><circle cx="83.6" cy="46.9" r="0.74" fill="#1a1a1a"/><circle cx="93.6" cy="47.0" r="0.67" fill="#1a1a1a"/><path d="M82.3,50.1 L80.8,51.3" stroke="#1a1a1a" stroke-width="0.75" stroke-linecap="round"/><path d="M87.5,45.5 L86.3,45.9" stroke="#1a1a1a" stroke-width="0.75" stroke-linecap="round"/><path d="M85.3,45.8 L83.8,47.2" stroke="#1a1a1a" stroke-width="0.75" stroke-linecap="round"/><circle cx="92.6" cy="45.0" r="0.50" fill="#1a1a1a"/><path d="M95.2,42.1 L93.8,43.3" stroke="#1a1a1a" stroke-width="0.75" stroke-linecap="round"/><path d="M81.9,46.0 L83.0,47.0" stroke="#1a1a1a" stroke-width="0.75" stroke-linecap="round"/><path d="M85.3,49.3 L86.5,50.0" stroke="#1a1a1a" stroke-width="0.75" stroke-linecap="round"/><circle cx="94.3" cy="46.2" r="0.67" fill="#1a1a1a"/><path d="M93.4,46.3 L93.6,47.7" stroke="#1a1a1a" stroke-width="0.75" stroke-linecap="round"/><path d="M92.6,45.5 L90.9,46.0" stroke="#1a1a1a" stroke-width="0.75" stroke-linecap="round"/><circle cx="92.5" cy="46.4" r="0.67" fill="#1a1a1a"/><path d="M92.1,42.8 L92.4,44.7" stroke="#1a1a1a" stroke-width="0.75" stroke-linecap="round"/><path d="M87.1,48.7 L88.8,49.8" stroke="#1a1a1a" stroke-width="0.75" stroke-linecap="round"/><path d="M95.8,45.5 L94.6,45.6" stroke="#1a1a1a" stroke-width="0.75" stroke-linecap="round"/><path d="M91.2,46.6 L91.2,48.5" stroke="#1a1a1a" stroke-width="0.75" stroke-linecap="round"/><path d="M84.6,48.9 L83.6,49.9" stroke="#1a1a1a" stroke-width="0.75" stroke-linecap="round"/><circle cx="99.2" cy="45.1" r="0.55" fill="#1a1a1a"/><path d="M87.8,45.3 L88.5,46.6" stroke="#1a1a1a" stroke-width="0.75" stroke-linecap="round"/><path d="M84.4,49.4 L84.3,50.9" stroke="#1a1a1a" stroke-width="0.75" stroke-linecap="round"/><circle cx="95.6" cy="45.6" r="0.50" fill="#1a1a1a"/>
<path d="M76.7,45.4 L76.8,47.3" stroke="#333" stroke-width="0.75" stroke-linecap="round"/><path d="M66.8,46.3 L65.8,48.3" stroke="#333" stroke-width="0.75" stroke-linecap="round"/><circle cx="77.5" cy="44.3" r="0.64" fill="#333"/><path d="M65.1,46.2 L63.7,46.8" stroke="#333" stroke-width="0.75" stroke-linecap="round"/><path d="M68.6,42.7 L69.6,43.4" stroke="#333" stroke-width="0.75" stroke-linecap="round"/><circle cx="75.7" cy="43.2" r="0.56" fill="#333"/><path d="M71.5,43.4 L70.7,44.8" stroke="#333" stroke-width="0.75" stroke-linecap="round"/><circle cx="79.6" cy="46.6" r="0.74" fill="#333"/><circle cx="79.2" cy="46.2" r="0.74" fill="#333"/><circle cx="74.0" cy="41.6" r="0.78" fill="#333"/><circle cx="74.5" cy="43.0" r="0.50" fill="#333"/><circle cx="66.4" cy="46.2" r="0.50" fill="#333"/><circle cx="79.2" cy="46.3" r="0.76" fill="#333"/><path d="M74.6,45.8 L72.5,46.5" stroke="#333" stroke-width="0.75" stroke-linecap="round"/><path d="M78.0,41.6 L77.8,43.7" stroke="#333" stroke-width="0.75" stroke-linecap="round"/><path d="M69.8,46.2 L70.8,47.3" stroke="#333" stroke-width="0.75" stroke-linecap="round"/><circle cx="64.6" cy="44.5" r="0.61" fill="#333"/><path d="M64.9,43.3 L64.6,45.6" stroke="#333" stroke-width="0.75" stroke-linecap="round"/><path d="M62.3,45.6 L61.9,47.5" stroke="#333" stroke-width="0.75" stroke-linecap="round"/><path d="M78.6,43.7 L77.3,43.8" stroke="#333" stroke-width="0.75" stroke-linecap="round"/><circle cx="74.1" cy="45.3" r="0.66" fill="#333"/><circle cx="75.0" cy="47.1" r="0.79" fill="#333"/><path d="M70.7,44.3 L72.7,44.5" stroke="#333" stroke-width="0.75" stroke-linecap="round"/><path d="M73.5,42.7 L74.2,44.3" stroke="#333" stroke-width="0.75" stroke-linecap="round"/><circle cx="72.0" cy="46.1" r="0.60" fill="#333"/><path d="M69.4,44.0 L70.7,45.7" stroke="#333" stroke-width="0.75" stroke-linecap="round"/>
<path d="M61.3,18.0 L62.4,19.1 L64.1,17.3 L64.5,19.1 L66.2,21.2 L64.5,22.2 L64.5,24.4 L65.2,26.1 L64.1,27.2 L63.4,29.7 L62.4,33.2 L61.7,36.0 L62.4,38.5 L64.1,39.5 L64.1,40.3 L59.2,40.2 L55.6,39.4 L52.1,40.0 L51.2,39.2 L54.2,36.7 L57.1,33.2 L58.8,28.9 L60.6,24.7 L61.7,21.2 L61.2,19.3Z" fill="#000"/>
<path d="M78.2,20.3 L79.6,19.0 L81.0,18.4 L82.2,19.8 L81.7,22.0 L81.2,24.5 L81.7,26.3 L84.0,26.0 L87.5,26.8 L90.2,28.8 L91.4,31.5 L89.7,33.7 L86.8,34.3 L85.8,37.0 L86.8,40.3 L85.0,40.3 L84.0,36.6 L83.1,40.3 L81.7,40.3 L82.3,35.2 L80.6,33.1 L79.5,30.0 L79.3,26.0 L80.0,22.5 L79.4,21.0Z" fill="#000"/>
<path d="M65.4,24 L77.6,24 L77.6,31 Q77.6,35.8 71.5,37.4 Q65.4,35.8 65.4,31 Z" fill="#e8e8e8" stroke="#111" stroke-width="1.1"/>
<g fill="#444"><circle cx="68.2" cy="26.6" r="1.3"/><circle cx="71.5" cy="26.6" r="1.3"/><circle cx="74.8" cy="26.6" r="1.3"/><circle cx="68.6" cy="30.5" r="1.2"/><circle cx="71.5" cy="30.5" r="1.4"/><circle cx="74.4" cy="30.5" r="1.2"/><circle cx="71.5" cy="34.1" r="1.1"/></g>
<path d="M65.6,28.6 L77.4,28.6 M65.8,32.4 L77.2,32.4 M69.8,24.2 L69.8,36 M73.2,24.2 L73.2,36" stroke="#888" stroke-width="0.5"/>
<rect x="59.5" y="48.2" width="22.5" height="3.6" fill="#999" stroke="#111" stroke-width="0.9"/>
<path d="M61,49.4 h19.5 M61,50.6 h19.5" stroke="#333" stroke-width="0.5" stroke-dasharray="1 0.6"/>
<path d="M66,44 L71.5,42.3 L77,44 L75,47.5 L68,47.5 Z" fill="#777"/>
<path d="M68,52 L75,52 L74,55.5 L69,55.5 Z" fill="#222"/>
<path d="M63.5,55.8 q4,-1.2 8,0 q4,1.2 8,0" stroke="#333" stroke-width="0.8" fill="none"/>
<text x="14.6" y="71.2" class="ser" style="font-size:11.1px">Australian Government</text>
<rect x="14" y="76.2" width="113.6" height="1" fill="#222"/>
<text x="21.4" y="89.9" class="ser" style="font-size:10.2px">Bureau of Meteorology</text>
<text x="136.4" y="398.9" style="font-size:12px">Australian Rainfall Analysis (mm)</text>
<text x="177.9" y="417.6" style="font-size:12px">12th August 2024</text>
<text x="151.4" y="430.5" style="font-size:9.8px">Australian Bureau of Meteorology</text>
<text x="4.6" y="451.5" style="font-size:7px;font-weight:bold;stroke-width:0">http://www.bom.gov.au</text>
<text x="0" y="465.2" style="font-size:7.2px;font-weight:bold;stroke-width:0">© Commonwealth of Australia 2024, Bureau of Meteorology</text>
<text x="615" y="465.8" style="font-size:7.3px;font-weight:bold;stroke-width:0">Issued: 12/08/2024</text>
</svg>
</body></html>
